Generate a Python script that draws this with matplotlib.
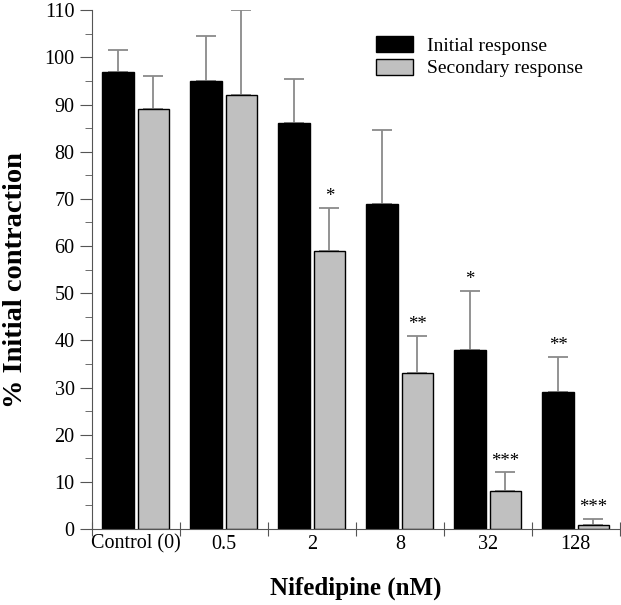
import numpy as np
import matplotlib.pyplot as plt
from matplotlib.ticker import MultipleLocator

plt.rcParams['font.family'] = ['Liberation Serif', 'DejaVu Serif']

groups = ['Control (0)', '0.5', '2', '8', '32', '128']
initial = [97, 95, 86, 69, 38, 29]
initial_err = [4.5, 9.5, 9.5, 15.5, 12.5, 7.5]
secondary = [89, 92, 59, 33, 8, 0.8]
secondary_err = [7, 18, 9, 8, 4, 1.3]
initial_sig = ['', '', '', '', '*', '**']
secondary_sig = ['', '', '*', '**', '***', '***']

fig = plt.figure(figsize=(6.21, 6.05), dpi=100)
ax = fig.add_axes([0.148, 0.1256, 0.85, 0.8575])

x = np.arange(len(groups))
w = 0.36
off = 0.2
errc = '#8a8a8a'
ax.bar(x - off, initial, w, color='black', edgecolor='black', lw=1,
       label='Initial response', zorder=2)
ax.bar(x + off, secondary, w, color='#c0c0c0', edgecolor='black', lw=1,
       label='Secondary response', zorder=2)
ax.errorbar(x - off, initial, yerr=[np.zeros(6), initial_err], fmt='none',
            ecolor=errc, elinewidth=1.3, capsize=7.5, capthick=1.3, zorder=1)
ax.errorbar(x + off, secondary, yerr=[np.zeros(6), secondary_err], fmt='none',
            ecolor=errc, elinewidth=1.3, capsize=7.5, capthick=1.3, zorder=1)

for i in range(len(groups)):
    if initial_sig[i]:
        ax.text(x[i] - off, initial[i] + initial_err[i] + 0.6, initial_sig[i],
                ha='center', va='bottom', fontsize=13.5)
    if secondary_sig[i]:
        ax.text(x[i] + off, secondary[i] + secondary_err[i] + 0.6, secondary_sig[i],
                ha='center', va='bottom', fontsize=13.5)

ax.set_xlim(-0.5, 5.5)
ax.set_ylim(0, 110)
ax.yaxis.set_major_locator(MultipleLocator(10))
ax.yaxis.set_minor_locator(MultipleLocator(5))
ax.set_xticks(np.arange(-0.5, 6, 1))
ax.set_xticklabels([])
ax.set_xticks(x, minor=True)
ax.set_xticklabels(groups, minor=True, fontsize=14.5)
ax.tick_params(axis='x', which='major', direction='inout', length=10, color='#555555')
ax.tick_params(axis='x', which='minor', length=0, pad=4)
ax.tick_params(axis='y', which='major', length=9, labelsize=14.5, color='#555555')
ax.tick_params(axis='y', which='minor', length=5, color='#555555')
for s in ['top', 'right']:
    ax.spines[s].set_visible(False)
for s in ['left', 'bottom']:
    ax.spines[s].set_color('#555555')

ax.set_ylabel('% Initial contraction', fontsize=20.5, fontweight='bold')
ax.yaxis.set_label_coords(-0.122, 0.48)
ax.set_xlabel('Nifedipine (nM)', fontsize=18, fontweight='bold')
ax.xaxis.set_label_coords(0.5, -0.092)

ax.legend(loc='upper left', bbox_to_anchor=(0.505, 0.984), frameon=False, fontsize=14,
          handlelength=1.9, handleheight=0.9, handletextpad=0.7, labelspacing=0.2)

plt.savefig('out.png', dpi=100)
